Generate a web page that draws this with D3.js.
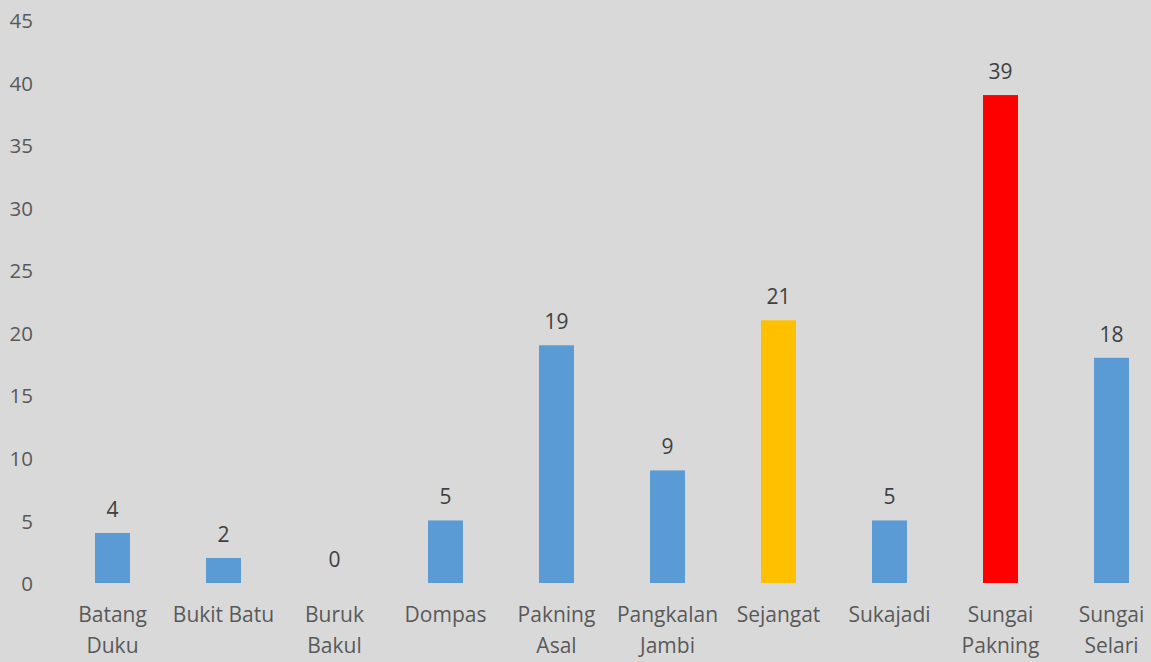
<!DOCTYPE html>
<html>
<head>
<meta charset="utf-8">
<script src="https://cdn.jsdelivr.net/npm/d3@7"></script>
<style>
  body { margin: 0; background: #d9d9d9; }
  svg { display: block; }
</style>
</head>
<body>
<script>
var width = 1151,
  height = 662;

var categories = [["Batang", "Duku"], ["Bukit Batu"], ["Buruk", "Bakul"], ["Dompas"],
  ["Pakning", "Asal"], ["Pangkalan", "Jambi"], ["Sejangat"], ["Sukajadi"],
  ["Sungai", "Pakning"], ["Sungai", "Selari"]];
var values = [4, 2, 0, 5, 19, 9, 21, 5, 39, 18];
var colors = ["#5b9bd5", "#5b9bd5", "#5b9bd5", "#5b9bd5", "#5b9bd5",
  "#5b9bd5", "#ffc000", "#5b9bd5", "#ff0000", "#5b9bd5"];
var yTicks = [0, 5, 10, 15, 20, 25, 30, 35, 40, 45];

var names = categories.map(function(d) { return d.join(" "); });

var x = d3.scaleBand()
          .domain(names)
          .range([57, 1167])
          .paddingInner(0.685)
          .paddingOuter(0.3425);

var y = d3.scaleLinear()
          .domain([0, 45])
          .range([583, 20]);

var svg = d3.select("body").append("svg")
            .attr("width", width)
            .attr("height", height)
            .style("font-family", "'Open Sans', sans-serif");

svg.append("rect")
   .attr("width", width)
   .attr("height", height)
   .attr("fill", "#d9d9d9");

// y axis labels only, no line or ticks
var yAxis = svg.append("g")
               .attr("transform", "translate(33,1)")
               .call(d3.axisLeft(y).tickValues(yTicks).tickSize(0).tickPadding(0));
yAxis.select(".domain").remove();
yAxis.selectAll("text")
     .attr("fill", "#595959")
     .style("font-size", "20.5px")
     .style("font-family", "'Open Sans', sans-serif");

svg.selectAll(".bar")
   .data(values)
   .enter()
   .append("rect")
   .attr("class", "bar")
   .attr("x", function(d, i) { return x(names[i]); })
   .attr("y", function(d) { return y(d); })
   .attr("width", x.bandwidth())
   .attr("height", function(d) { return y(0) - y(d); })
   .attr("fill", function(d, i) { return colors[i]; });

svg.selectAll(".val")
   .data(values)
   .enter()
   .append("text")
   .attr("class", "val")
   .attr("x", function(d, i) { return x(names[i]) + x.bandwidth() / 2; })
   .attr("y", function(d) { return y(d) - 16; })
   .attr("text-anchor", "middle")
   .attr("fill", "#404040")
   .style("font-size", "21px")
   .text(function(d) { return d; });

var catLabels = svg.selectAll(".cat")
   .data(categories)
   .enter()
   .append("text")
   .attr("class", "cat")
   .attr("x", function(d, i) { return x(names[i]) + x.bandwidth() / 2; })
   .attr("y", 622)
   .attr("text-anchor", "middle")
   .attr("fill", "#595959")
   .style("font-size", "21px");

catLabels.selectAll("tspan")
   .data(function(d) { return d; })
   .enter()
   .append("tspan")
   .attr("x", function() { return d3.select(this.parentNode).attr("x"); })
   .attr("dy", function(d, i) { return i === 0 ? 0 : 31; })
   .text(function(d) { return d; });
</script>
</body>
</html>
